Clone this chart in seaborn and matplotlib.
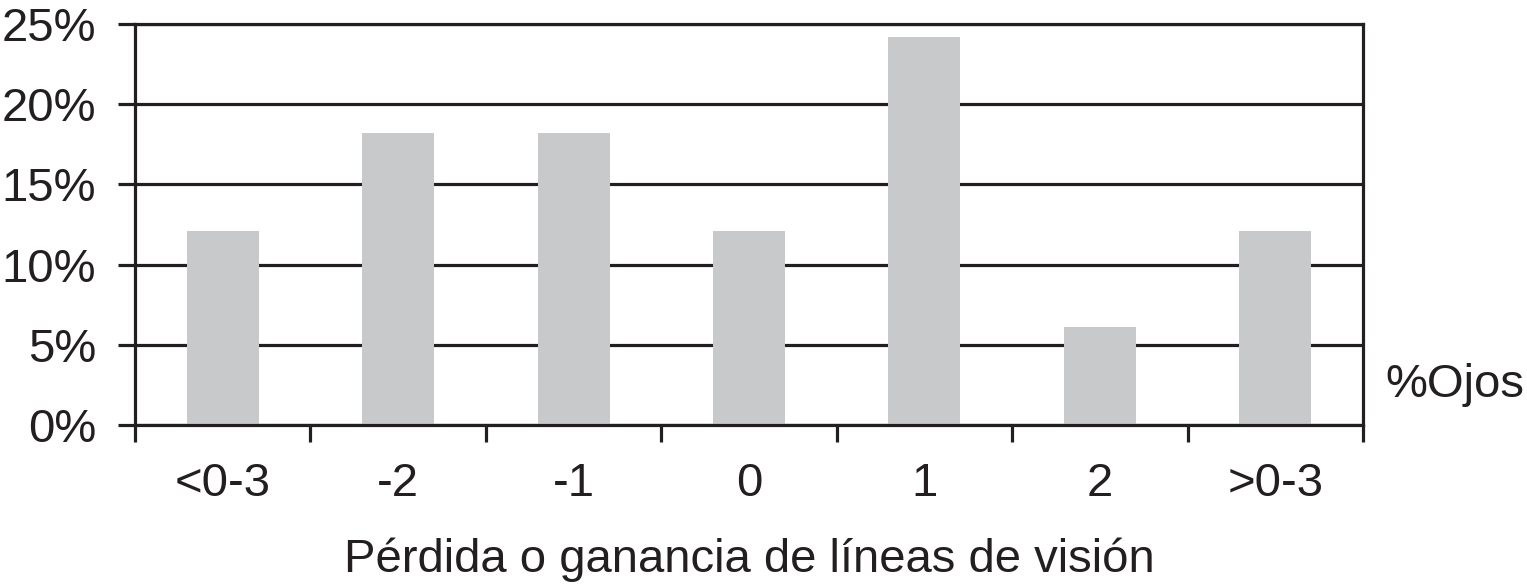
import matplotlib
matplotlib.use("Agg")
import matplotlib.pyplot as plt
import seaborn as sns
import pandas as pd
from matplotlib.ticker import FixedLocator, NullFormatter

categories = ["<0-3", "-2", "-1", "0", "1", "2", ">0-3"]
values = [12.1, 18.2, 18.2, 12.1, 24.2, 6.1, 12.1]
y_ticks = [0, 5, 10, 15, 20, 25]
y_labels = ["0%", "5%", "10%", "15%", "20%", "25%"]
x_title = "Pérdida o ganancia de líneas de visión"
series_name = "%Ojos"

sns.set_theme(style="white")
plt.rcParams["font.family"] = ["Liberation Sans", "DejaVu Sans"]

df = pd.DataFrame({"cat": categories, "val": values})

fig = plt.figure(figsize=(15.27, 5.85), dpi=100)
ax = fig.add_axes([135 / 1527, 1 - 425 / 585, (1363 - 135) / 1527, (425 - 24) / 585])

sns.barplot(data=df, x="cat", y="val", color="#c8c9cb", width=0.41,
            saturation=1, ax=ax, zorder=3, edgecolor="none")

ax.set_xlim(-0.5, len(categories) - 0.5)
ax.set_ylim(0, 25)

# gridlines
for v in y_ticks:
    ax.axhline(v, color="#231f20", lw=2.3, zorder=1)

ax.set_yticks(y_ticks)
ax.set_yticklabels(y_labels)
ax.tick_params(axis="y", which="major", direction="out", length=12, width=2.3,
               color="#231f20", labelsize=34, labelcolor="#231f20", pad=16, left=True)

# x: major ticks at boundaries, labels at minor positions
ax.xaxis.set_major_locator(FixedLocator([i - 0.5 for i in range(len(categories) + 1)]))
ax.xaxis.set_major_formatter(NullFormatter())
ax.xaxis.set_minor_locator(FixedLocator(list(range(len(categories)))))
ax.set_xticklabels(categories, minor=True)
ax.tick_params(axis="x", which="major", direction="out", length=12, width=2.3,
               color="#231f20", bottom=True)
ax.tick_params(axis="x", which="minor", length=0, labelsize=34,
               labelcolor="#231f20", pad=27)

ax.set_xlabel(x_title, fontsize=34, color="#231f20", labelpad=22)
ax.set_ylabel("")

for s in ["left", "right", "top", "bottom"]:
    ax.spines[s].set_visible(True)
    ax.spines[s].set_color("#231f20")
    ax.spines[s].set_linewidth(2.3)
    ax.spines[s].set_zorder(4)

fig.text(1385 / 1527, 1 - 385 / 585, series_name, fontsize=34, color="#231f20",
         ha="left", va="center")

fig.savefig("out.png", dpi=100, facecolor="white")
